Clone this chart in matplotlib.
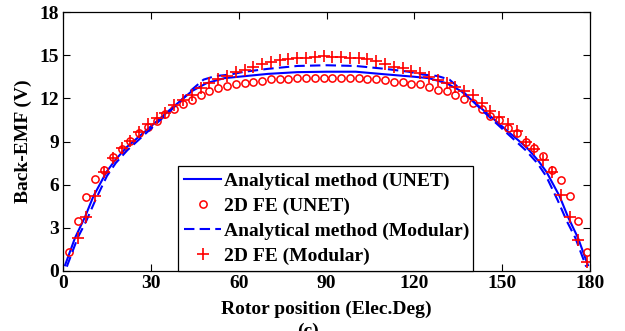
import matplotlib
matplotlib.use("Agg")
import matplotlib.pyplot as plt

# analytical curves
x_ana_unet = [0.7, 4.1, 7.5, 10.4, 14.9, 17.8, 21.7, 28.6, 36.5, 44, 49, 55, 60, 70, 80, 90,
              100, 110, 120, 125, 131, 136, 143.5, 151.4, 158.3, 162.2, 165.1, 169.6, 172.5, 175.9, 179.3]
y_ana_unet = [0.4, 2.3, 3.75, 5.2, 6.9, 7.7, 8.6, 9.8, 11.2, 12.5, 13.05, 13.4, 13.5, 13.7, 13.82, 13.85,
              13.85, 13.67, 13.5, 13.4, 13.05, 12.5, 11.2, 9.8, 8.6, 7.7, 6.9, 5.2, 3.75, 2.3, 0.4]

x_ana_mod = [1.3, 5, 8, 11, 15, 18, 22, 29, 37, 44, 48, 52, 57, 62, 70, 80, 90,
             100, 110, 118, 123, 128, 132, 136, 143, 151, 158, 162, 165, 169, 172, 175, 178.7]
y_ana_mod = [0.3, 2.3, 3.5, 4.9, 6.6, 7.5, 8.4, 9.7, 11.2, 12.6, 13.3, 13.55, 13.65, 13.85, 14.05, 14.25, 14.3,
             14.25, 14.05, 13.85, 13.65, 13.55, 13.3, 12.6, 11.2, 9.7, 8.4, 7.5, 6.6, 4.9, 3.5, 2.3, 0.3]

# 2D FE points, every 3 deg
x_fe_unet = list(range(2, 180, 3))
y_fe_unet = [1.3, 3.47, 5.12, 6.37, 7.02, 7.94, 8.45, 9.05, 9.57, 10.03,
             10.45, 10.9, 11.24, 11.58, 11.88, 12.23, 12.51, 12.69, 12.86, 12.97,
             13.04, 13.11, 13.2, 13.32, 13.34, 13.34, 13.43, 13.39, 13.39, 13.39,
             13.39, 13.43, 13.39, 13.43, 13.32, 13.32, 13.3, 13.11, 13.16, 12.97,
             12.97, 12.76, 12.58, 12.53, 12.23, 11.93, 11.65, 11.24, 10.77, 10.5,
             9.95, 9.61, 8.99, 8.52, 7.99, 7.02, 6.32, 5.21, 3.5, 1.3]

x_fe_mod = list(range(5, 180, 3))
y_fe_mod = [2.27, 3.73, 5.21, 6.9, 7.83, 8.53, 9.05, 9.64, 10.2,
            10.6, 11.0, 11.54, 11.88, 12.23, 12.69, 13.09, 13.34, 13.57, 13.81,
            13.95, 14.15, 14.36, 14.55, 14.66, 14.73, 14.78, 14.82, 14.85, 14.93,
            14.89, 14.89, 14.82, 14.78, 14.73, 14.59, 14.4, 14.2, 14.09, 13.9,
            13.74, 13.46, 13.27, 13.09, 12.76, 12.53, 12.23, 11.7, 11.1, 10.7,
            10.25, 9.75, 8.99, 8.45, 7.71, 6.9, 5.28, 3.77, 2.15, 0.65]

xticks = [0, 30, 60, 90, 120, 150, 180]
yticks = [0, 3, 6, 9, 12, 15, 18]

plt.rcParams["font.family"] = ["Liberation Serif", "DejaVu Serif"]
plt.rcParams["font.weight"] = "bold"
plt.rcParams["font.size"] = 14

fig = plt.figure(figsize=(6.25, 3.31), dpi=100)
ax = fig.add_axes([0.1008, 0.1813, 0.8432, 0.7824])

ax.plot(x_ana_unet, y_ana_unet, color="#0000ff", lw=1.5, label="Analytical method (UNET)")
ax.plot(x_fe_unet, y_fe_unet, ls="none", marker="o", ms=5.2, mfc="none", mec="#ff0000",
        mew=1.1, label="2D FE (UNET)")
ax.plot(x_ana_mod, y_ana_mod, color="#0000ff", lw=1.5, ls=(0, (5, 2.5)),
        label="Analytical method (Modular)")
ax.plot(x_fe_mod, y_fe_mod, ls="none", marker="+", ms=8.5, mec="#ff0000", mew=1.2,
        label="2D FE (Modular)")

ax.set_xlim(0, 180)
ax.set_ylim(0, 18)
ax.set_xticks(xticks)
ax.set_yticks(yticks)
ax.tick_params(direction="in", top=True, right=True, length=5, width=0.8, labelsize=14, pad=3)
for s in ax.spines.values():
    s.set_linewidth(0.9)

ax.set_xlabel("Rotor position (Elec.Deg)", fontsize=14, fontweight="bold")
ax.xaxis.set_label_coords(0.5, -0.15, transform=ax.transAxes)
ax.xaxis.label.set_va("center")
ax.set_ylabel("Back-EMF (V)", fontsize=14, fontweight="bold")
ax.yaxis.set_label_coords(-0.076, 0.5, transform=ax.transAxes)
ax.yaxis.label.set_va("center")

leg = ax.legend(loc="lower left", bbox_to_anchor=(0.218, 0.0, 0.56, 0.40), mode="expand",
                borderaxespad=0, fancybox=False, framealpha=1, edgecolor="black",
                handlelength=1.9, handletextpad=0.15, labelspacing=0.37, borderpad=0.32,
                prop={"size": 14, "weight": "bold"})
leg.get_frame().set_linewidth(0.9)

fig.text(0.493, 0.024, "(c)", ha="center", va="top", fontsize=14)

fig.savefig("out.png", dpi=100)
